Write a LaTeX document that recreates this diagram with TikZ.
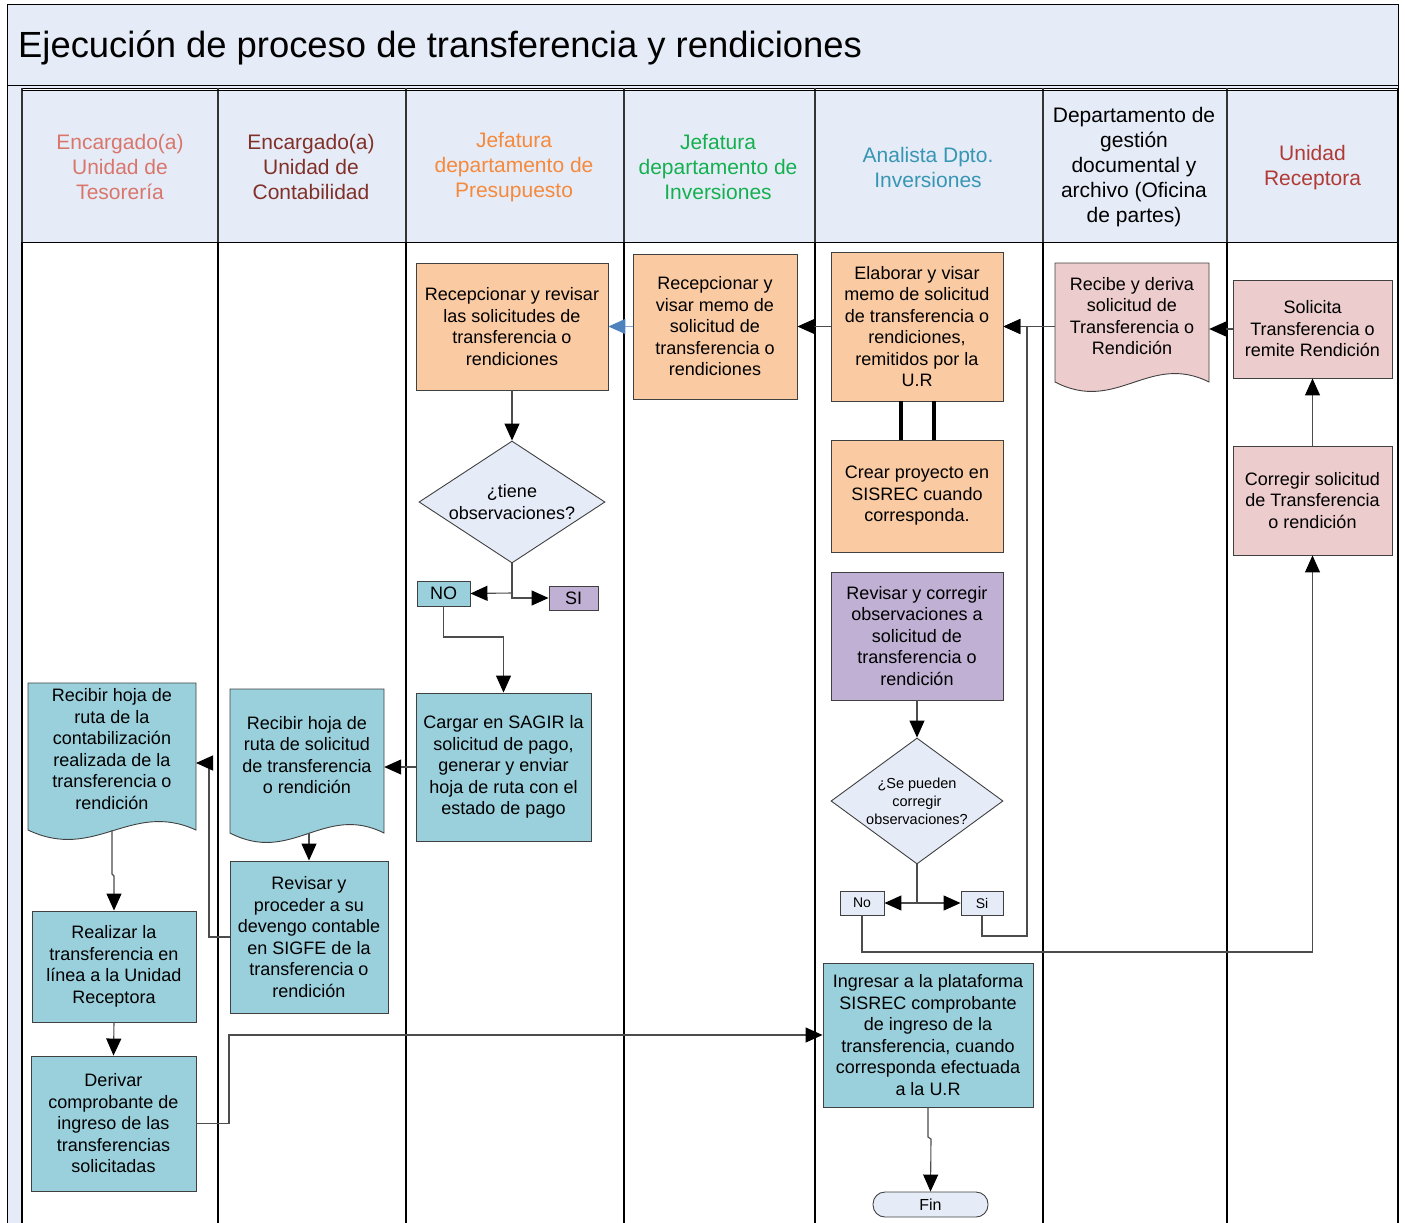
\documentclass[tikz,border=0pt]{standalone}
\usepackage{fontspec}
\setmainfont{Liberation Sans}
\usetikzlibrary{arrows.meta,shapes.geometric}

\definecolor{hdr}{RGB}{230,236,247}
\definecolor{peach}{RGB}{250,202,162}
\definecolor{tealbox}{RGB}{153,208,220}
\definecolor{lilac}{RGB}{191,176,212}
\definecolor{rose}{RGB}{236,204,204}
\definecolor{cTes}{RGB}{217,118,108}
\definecolor{cCon}{RGB}{128,48,40}
\definecolor{cPre}{RGB}{245,137,60}
\definecolor{cInv}{RGB}{20,176,80}
\definecolor{cAna}{RGB}{55,150,180}
\definecolor{cRec}{RGB}{176,58,53}
\definecolor{flowblue}{RGB}{79,129,189}
\definecolor{flowblueline}{RGB}{140,170,215}

\newcommand\bodyfont{\fontsize{18}{21.5}\selectfont}
\newcommand\headfont{\fontsize{21}{25}\selectfont}
% document shape with a wavy lower edge: left, right, top, bottom of sides, fill
\newcommand\docpath[5]{%
  \draw[boxline, fill=#5] (#1,#3) -- (#2,#3) -- (#2,#4)
    .. controls ({#2-0.39*(#2-#1)},{#4-30}) and ({#1+0.4*(#2-#1)},{#4+32}) .. (#1,#4) -- cycle;}

\begin{document}
\begin{tikzpicture}[x=1pt,y=-1pt,
  boxline/.style={draw=black!75, line width=0.9pt},
  box/.style={boxline, inner sep=0pt, align=center, font=\bodyfont},
  frame/.style={inner sep=0pt},
  txt/.style={inner sep=0pt, align=center, font=\bodyfont},
  lanehead/.style={inner sep=0pt, align=center, font=\headfont},
  decision/.style={diamond, boxline, fill=hdr, inner sep=0pt},
  conn/.style={draw=black!70, line width=1.1pt, -{Triangle[length=17pt,width=15pt,color=black]}},
  link/.style={draw=black!70, line width=1.1pt},
  blueconn/.style={draw=flowblueline, line width=1.5pt, -{Triangle[length=17pt,width=15pt,color=flowblue]}}
]
\useasboundingbox (0,0) rectangle (1405,1223);

% ---------- title band ----------
\fill[hdr] (7,5) rectangle (1398,88);
\draw[line width=1pt] (7,5) rectangle (1398,88);
\draw[line width=0.8pt] (7,85.5) -- (1398,85.5);
\node[anchor=west, inner sep=0pt, font=\fontsize{36.4}{40}\selectfont] (title) at (18,47.5)
  {Ejecución de proceso de transferencia y rendiciones};

% ---------- pool and lanes ----------
\fill[hdr] (7,88) rectangle (22,1223);
\fill[hdr] (22,90) rectangle (1398,242);
\draw[line width=1pt] (7,88) -- (7,1223);
\foreach \x in {22,218,406,624,815,1043,1227} {
  \draw[line width=2pt, black!80] (\x,88) -- (\x,242);
  \draw[line width=1.3pt] (\x,242) -- (\x,1223);
}
\draw[line width=2.2pt] (1398,88) -- (1398,1223);
\draw[line width=1pt] (22,90) -- (1398,90);
\draw[line width=1pt] (22,242) -- (1398,242);

\node[lanehead, text=cTes] (h1) at (120,167) {Encargado(a)\\Unidad de\\Tesorería};
\node[lanehead, text=cCon] (h2) at (311,167) {Encargado(a)\\Unidad de\\Contabilidad};
\node[lanehead, text=cPre] (h3) at (514,167) {Jefatura\\departamento de\\Presupuesto};
\node[lanehead, text=cInv] (h4) at (718,167) {Jefatura\\departamento de\\Inversiones};
\node[lanehead, text=cAna] (h5) at (928,167.5) {Analista Dpto.\\Inversiones};
\node[lanehead, text=black] (h6) at (1134,167) {Departamento de\\gestión\\documental y\\archivo (Oficina\\de partes)};
\node[lanehead, text=cRec] (h7) at (1312.5,167.5) {Unidad\\Receptora};

% ---------- Unidad Receptora ----------
\node[box, fill=rose, minimum width=159, minimum height=98] (u1) at (1312.5,329)
  {Solicita\\Transferencia o\\remite Rendición};
\node[box, fill=rose, minimum width=159, minimum height=109] (u2) at (1312.5,500.5)
  {Corregir solicitud\\de Transferencia\\o rendición};

% ---------- Oficina de partes ----------
\docpath{1055}{1209}{263}{382}{rose}
\node[frame, minimum width=154, minimum height=119] (g1) at (1132,322.5) {};
\node[txt] (g1t) at (1132,316) {Recibe y deriva\\solicitud de\\Transferencia o\\Rendición};

% ---------- Analista Dpto. Inversiones ----------
\node[box, fill=peach, minimum width=172, minimum height=149] (a1) at (917,326.5)
  {Elaborar y visar\\memo de solicitud\\de transferencia o\\rendiciones,\\remitidos por la\\U.R};
\node[box, fill=peach, minimum width=172, minimum height=112] (a2) at (917,496)
  {Crear proyecto en\\SISREC cuando\\corresponda.};
\node[box, fill=lilac, minimum width=172, minimum height=128] (a3) at (917,636)
  {Revisar y corregir\\observaciones a\\solicitud de\\transferencia o\\rendición};
\node[decision, minimum width=172, minimum height=126] (d2) at (917,801) {};
\node[inner sep=0pt, align=center, font=\fontsize{14.5}{18}\selectfont] (d2t) at (917,801)
  {¿Se pueden\\corregir\\observaciones?};
\node[box, fill=hdr, minimum width=44, minimum height=24, font=\fontsize{14}{16}\selectfont] (no2) at (862,903) {No};
\node[box, fill=hdr, minimum width=42, minimum height=24, font=\fontsize{14}{16}\selectfont] (si2) at (982,903) {Si};
\node[box, fill=tealbox, minimum width=210, minimum height=144] (a4) at (928,1035)
  {Ingresar a la plataforma\\SISREC comprobante\\de ingreso de la\\transferencia, cuando\\corresponda efectuada\\a la U.R};
\node[box, fill=hdr, rounded corners=12pt, minimum width=115, minimum height=25,
  font=\fontsize{16}{18}\selectfont] (fin) at (930.5,1204.5) {Fin};

% ---------- Jefatura Inversiones ----------
\node[box, fill=peach, minimum width=164, minimum height=145] (i1) at (715,326.5)
  {Recepcionar y\\visar memo de\\solicitud de\\transferencia o\\rendiciones};

% ---------- Jefatura Presupuesto ----------
\node[box, fill=peach, minimum width=192, minimum height=127] (p1) at (512,326.5)
  {Recepcionar y revisar\\las solicitudes de\\transferencia o\\rendiciones};
\node[decision, minimum width=186, minimum height=122] (d1) at (512,502) {};
\node[txt] (d1t) at (512,502) {¿tiene\\observaciones?};
\node[box, fill=tealbox, minimum width=53, minimum height=25] (no1) at (443.5,593.5) {NO};
\node[box, fill=lilac, minimum width=49, minimum height=24] (si1) at (573.5,598) {SI};
\node[box, fill=tealbox, minimum width=175, minimum height=148] (p2) at (503.5,767)
  {Cargar en SAGIR la\\solicitud de pago,\\generar y enviar\\hoja de ruta con el\\estado de pago};

% ---------- Contabilidad ----------
\docpath{230}{384}{689}{833}{tealbox}
\node[frame, minimum width=154, minimum height=144] (c1) at (307,761) {};
\node[txt] (c1t) at (307,755) {Recibir hoja de\\ruta de solicitud\\de transferencia\\o rendición};
\node[box, fill=tealbox, minimum width=158, minimum height=152] (c2) at (309,937)
  {Revisar y\\proceder a su\\devengo contable\\en SIGFE de la\\transferencia o\\rendición};

% ---------- Tesorería ----------
\docpath{28}{196}{683}{830}{tealbox}
\node[frame, minimum width=168, minimum height=147] (t1) at (112,756.5) {};
\node[txt] (t1t) at (112,749) {Recibir hoja de\\ruta de la\\contabilización\\realizada de la\\transferencia o\\rendición};
\node[box, fill=tealbox, minimum width=164, minimum height=111] (t2) at (114,966.5)
  {Realizar la\\transferencia en\\línea a la Unidad\\Receptora};
\node[box, fill=tealbox, minimum width=165, minimum height=135] (t3) at (113.5,1123.5)
  {Derivar\\comprobante de\\ingreso de las\\transferencias\\solicitadas};

% ---------- connectors ----------
\coordinate (t1in) at (196,763);
\coordinate (dj1) at (512,593);
\coordinate (dj2) at (917,903);

\draw[conn] (u1.west) -- (g1.east |- u1.west);
\draw[conn] (g1.west |- a1.east) -- (a1.east);
\draw[conn] (a1.west) -- (i1.east);
\draw[blueconn] (i1.west) -- (p1.east);
\draw[line width=4pt] ([xshift=-16pt]a1.south) -- ([xshift=-16pt]a2.north);
\draw[line width=4pt] ([xshift=17pt]a1.south) -- ([xshift=17pt]a2.north);

\draw[conn] (p1.south) -- (d1.north);
\draw[link] (d1.south) -- (dj1);
\draw[conn] (dj1) -- (no1.east);
\draw[conn] (dj1) -- (512,598) -- (si1.west);
\draw[conn] (no1.south) -- (443.5,637) -| (p2.north);
\draw[conn] (p2.west) -- (c1.east |- p2.west);
\draw[conn] (c1.south -| c2.north) -- (c2.north);
\draw[conn] (c2.west) -- (209,937) |- (t1in);
\draw[conn] (t1.south) -- (112,874) -- (114,876) -- (t2.north);
\draw[conn] (t2.south) -- (t3.north);
\draw[conn] (t3.east) -- (229,1123.5) |- (a4.west);
\draw[conn] (a4.south) -- (928,1137) -- (931,1139) -- (fin.north);

\draw[conn] (a3.south) -- (d2.north);
\draw[link] (d2.south) -- (dj2);
\draw[conn] (dj2) -- (no2.east);
\draw[conn] (dj2) -- (si2.west);
\draw[conn] (si2.south) |- (1027,936) -- (1027,326.5) -- (a1.east);
\draw[conn] (no2.south) |- (1312.5,952) -- (u2.south);
\draw[conn] (u2.north) -- (u1.south);
\end{tikzpicture}
\end{document}
